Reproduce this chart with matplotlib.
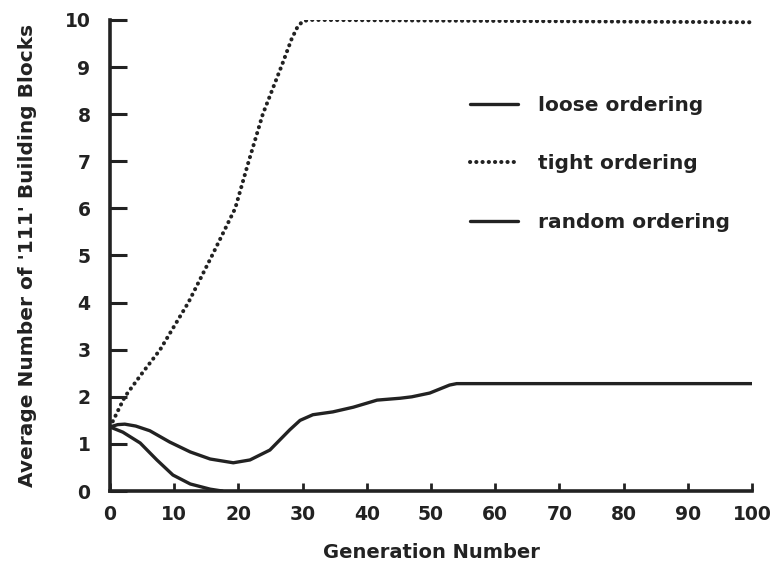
import matplotlib
matplotlib.use('Agg')
import matplotlib.pyplot as plt

plt.rcParams['font.family'] = 'DejaVu Sans'
plt.rcParams['font.weight'] = 'bold'

# values
loose_x = [0, 2, 4.7, 7.3, 9.8, 12.5, 15.6, 17.5]
loose_y = [1.36, 1.25, 1.02, 0.66, 0.34, 0.15, 0.04, 0.0]

tight_x = [0, 2.3, 5, 7.8, 10, 12.2, 15.9, 19.5, 21.5, 23.8, 26.8, 28.3, 29.2, 30, 31, 100]
tight_y = [1.36, 2.0, 2.5, 3.0, 3.5, 4.0, 5.0, 6.0, 6.95, 8.0, 9.05, 9.6, 9.85, 9.97, 10.0, 9.95]

random_x = [0, 1.2, 2.3, 4, 6.2, 9.3, 12.5, 15.6, 19.2, 21.8, 24.9, 28, 29.6, 31.6, 34.7,
            37.9, 41.6, 45.2, 47, 49.8, 52.9, 54, 100]
random_y = [1.36, 1.41, 1.42, 1.38, 1.28, 1.04, 0.83, 0.68, 0.60, 0.66, 0.87, 1.3, 1.5, 1.62,
            1.68, 1.78, 1.93, 1.97, 2.0, 2.08, 2.25, 2.28, 2.28]

xticks = list(range(0, 101, 10))
yticks = list(range(0, 11))

ink = '#222222'

fig = plt.figure(figsize=(7.78, 5.69), dpi=100)
ax = fig.add_axes([0.1414, 0.137, 0.8252, 0.828])

ax.plot(loose_x, loose_y, color=ink, lw=2.4, label='loose ordering',
        solid_capstyle='round', solid_joinstyle='round')
ax.plot(tight_x, tight_y, color=ink, lw=2.9, linestyle=(0, (0.05, 1.5)),
        dash_capstyle='round', label='tight ordering')
ax.plot(random_x, random_y, color=ink, lw=2.4, label='random ordering',
        solid_capstyle='round', solid_joinstyle='round')

ax.set_xlim(0, 100)
ax.set_ylim(0, 10)
ax.set_xticks(xticks)
ax.set_yticks(yticks)
ax.spines['top'].set_visible(False)
ax.spines['right'].set_visible(False)
ax.spines['left'].set_linewidth(2.6)
ax.spines['bottom'].set_linewidth(2.6)
ax.spines['left'].set_color(ink)
ax.spines['bottom'].set_color(ink)
ax.tick_params(axis='y', direction='in', length=12, width=2.2, color=ink,
               labelsize=13.5, pad=14, labelcolor=ink)
ax.tick_params(axis='x', direction='in', length=6, width=2.0, color=ink,
               labelsize=13.5, pad=10, labelcolor=ink)

ax.set_xlabel('Generation Number', fontsize=14, fontweight='bold', color=ink, labelpad=14)
ax.set_ylabel("Average Number of '111' Building Blocks", fontsize=14.5,
              fontweight='bold', color=ink, labelpad=20)

ax.legend(loc='upper left', bbox_to_anchor=(0.604, 0.832), bbox_transform=fig.transFigure,
          frameon=False, fontsize=14.5, handlelength=2.4, handletextpad=1.0,
          labelspacing=1.98, borderpad=0, borderaxespad=0, labelcolor=ink)

fig.savefig('out.png', dpi=100, facecolor='white')
